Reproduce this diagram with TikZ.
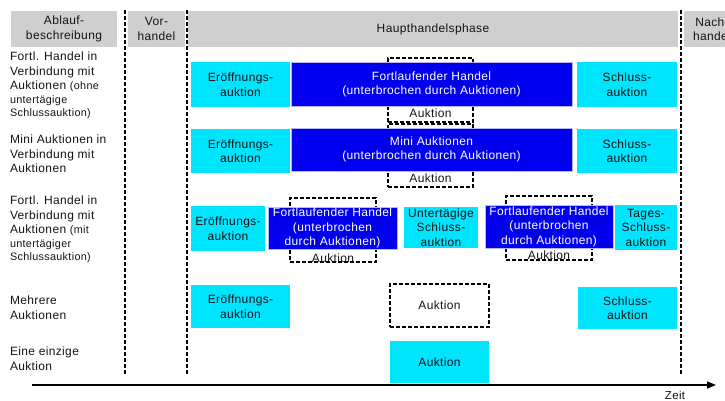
\documentclass[tikz,border=0pt]{standalone}
\usepackage{fontspec}
\setmainfont{Liberation Sans}[LetterSpace=3]
\usetikzlibrary{arrows.meta}
\definecolor{hdrgray}{HTML}{CFCFCF}
\definecolor{auccyan}{HTML}{00E5FF}
\definecolor{trdblue}{HTML}{0000EE}
\definecolor{trdedge}{HTML}{B4B4FF}
\definecolor{ink}{HTML}{141414}
\newcommand\smtxt{\fontsize{10.8}{13}\selectfont}

\begin{document}
\begin{tikzpicture}[x=1pt,y=-1pt,
  every node/.style={inner sep=0pt, outer sep=0pt,
    font=\fontsize{12}{14.5}\selectfont, align=center},
  hdr/.style={fill=hdrgray, text=ink, minimum height=36pt},
  cyanbox/.style={fill=auccyan, text=ink},
  bluebox/.style={fill=trdblue, draw=trdedge, line width=0.8pt, text=white},
  dashbox/.style={draw=black, line width=1.5pt, dash pattern=on 4pt off 2pt},
  auclabel/.style={text=ink},
  rowlabel/.style={anchor=north west, align=left, text=ink},
  phaseline/.style={draw=black, line width=2.4pt, dash pattern=on 4pt off 2pt}
]
\useasboundingbox (0,0) rectangle (725,400);
\clip (0,0) rectangle (725,400);

% column headers
\node[hdr, minimum width=106pt] (hdesc) at (64,29) {Ablauf-\\beschreibung};
\node[hdr, minimum width=57pt] (hpre) at (156.5,29) {Vor-\\handel};
\node[hdr, minimum width=490pt] (hmain) at (433,29) {Haupthandelsphase};
\node[hdr, minimum width=56pt] (hpost) at (712,29) {Nach-\\handel};

% phase separators
\coordinate (s1a) at (125,10); \coordinate (s1b) at (125,374);
\coordinate (s2a) at (187,10); \coordinate (s2b) at (187,374);
\coordinate (s3a) at (681,10); \coordinate (s3b) at (681,374);
\draw[phaseline] (s1a) -- (s1b);
\draw[phaseline] (s2a) -- (s2b);
\draw[phaseline] (s3a) -- (s3b);

% row descriptions
\node[rowlabel] (l1) at (10,52) {Fortl. Handel in\\Verbindung mit\\Auktionen {\smtxt(ohne}\\[-1pt]{\smtxt untertägige}\\[-1.5pt]{\smtxt Schlussauktion)}};
\node[rowlabel] (l2) at (10,135) {Mini Auktionen in\\Verbindung mit\\Auktionen};
\node[rowlabel] (l3) at (10,196) {Fortl. Handel in\\Verbindung mit\\Auktionen {\smtxt(mit}\\[-1pt]{\smtxt untertägiger}\\[-1.5pt]{\smtxt Schlussauktion)}};
\node[rowlabel] (l4) at (10,296) {Mehrere\\Auktionen};
\node[rowlabel] (l5) at (10,347) {Eine einzige\\Auktion};

% row 1
\node[dashbox, minimum width=85pt, minimum height=64pt] (d1) at (430.5,90) {};
\node[cyanbox, minimum width=99pt, minimum height=45pt] (o1) at (240.5,84.5) {Eröffnungs-\\auktion};
\node[bluebox, minimum width=281pt, minimum height=44pt] (b1) at (431.5,84.5) {Fortlaufender Handel\\(unterbrochen durch Auktionen)};
\node[cyanbox, minimum width=100pt, minimum height=45pt] (c1) at (627,84.5) {Schluss-\\auktion};
\node[auclabel] (a1) at (430.5,113.5) {Auktion};

% row 2
\node[dashbox, minimum width=85pt, minimum height=63pt] (d2) at (430.5,155.5) {};
\node[cyanbox, minimum width=99pt, minimum height=44pt] (o2) at (240.5,151) {Eröffnungs-\\auktion};
\node[bluebox, minimum width=281pt, minimum height=43pt] (b2) at (431.5,149.5) {Mini Auktionen\\(unterbrochen durch Auktionen)};
\node[cyanbox, minimum width=100pt, minimum height=44pt] (c2) at (627,151) {Schluss-\\auktion};
\node[auclabel] (a2) at (430.5,178.5) {Auktion};

% row 3
\node[dashbox, minimum width=86pt, minimum height=64pt] (d3) at (333,230) {};
\node[dashbox, minimum width=86pt, minimum height=64pt] (d4) at (549,228) {};
\node[cyanbox, minimum width=74pt, minimum height=45pt] (o3) at (228,228.5) {Eröffnungs-\\auktion};
\node[bluebox, minimum width=129pt, minimum height=42pt] (b3) at (332.5,228) {Fortlaufender Handel\\(unterbrochen\\durch Auktionen)};
\node[cyanbox, minimum width=74pt, minimum height=41pt] (u3) at (441,227.5) {Untertägige\\Schluss-\\auktion};
\node[bluebox, minimum width=128pt, minimum height=43pt] (b4) at (549,226.5) {Fortlaufender Handel\\(unterbrochen\\durch Auktionen)};
\node[cyanbox, minimum width=62pt, minimum height=45pt] (t3) at (646,227.5) {Tages-\\Schluss-\\auktion};
\node[auclabel] (a3) at (333,258.5) {Auktion};
\node[auclabel] (a4) at (549,255.5) {Auktion};

% row 4
\node[cyanbox, minimum width=99pt, minimum height=43pt] (o4) at (240.5,306.5) {Eröffnungs-\\auktion};
\node[dashbox, minimum width=99pt, minimum height=43pt, text=ink] (d5) at (439.5,305.5) {Auktion};
\node[cyanbox, minimum width=99pt, minimum height=42pt] (c4) at (627.5,308) {Schluss-\\auktion};

% row 5
\node[cyanbox, minimum width=99pt, minimum height=42pt] (o5) at (439.5,362) {Auktion};

% time axis
\coordinate (t0) at (32,385);
\coordinate (t1) at (716,385);
\draw[line width=1.6pt, -{Triangle[length=9pt,width=7pt]}] (t0) -- (t1);
\node[text=ink, font=\fontsize{11.5}{12}\selectfont] (zeit) at (675,395) {Zeit};
\end{tikzpicture}
\end{document}
